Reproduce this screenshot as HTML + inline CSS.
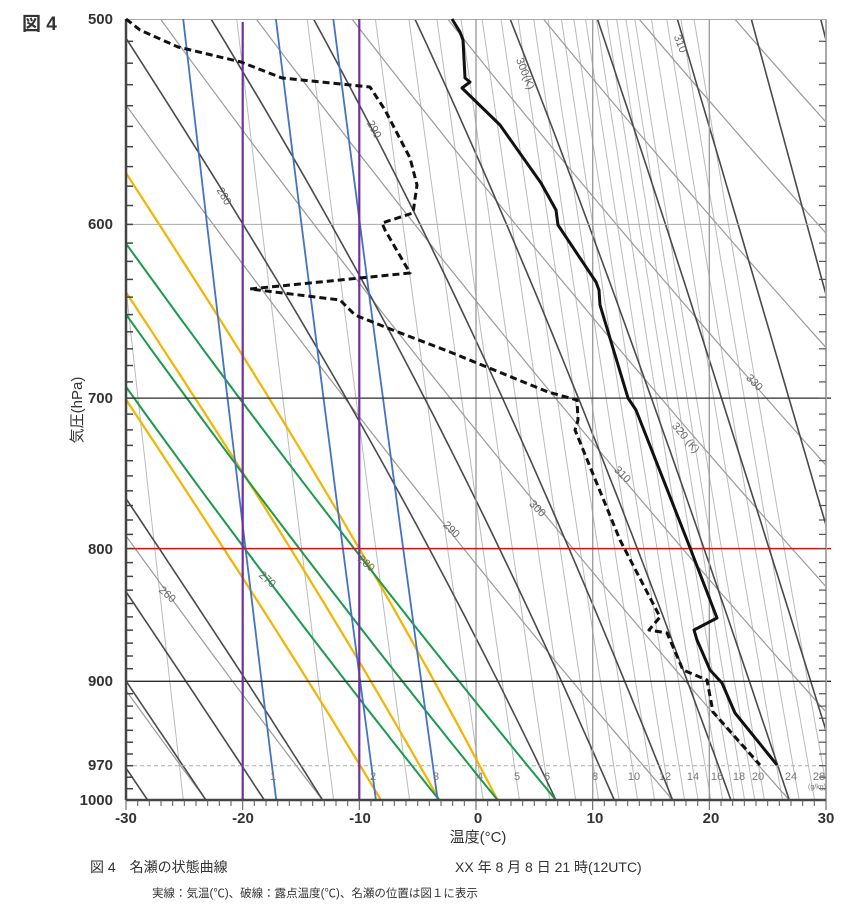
<!DOCTYPE html>
<html><head><meta charset="utf-8"><style>
body{margin:0;background:#fff;width:852px;height:915px;overflow:hidden;font-family:"Liberation Sans","Noto Sans CJK JP",sans-serif;}
svg{position:absolute;left:0;top:0}
.t{font-family:"Liberation Sans","Noto Sans CJK JP",sans-serif}
</style></head><body>
<svg id="s" width="852" height="915" xmlns="http://www.w3.org/2000/svg">
<defs><clipPath id="c"><rect x="126" y="19" width="700" height="781"/></clipPath></defs>
<g id="g" clip-path="url(#c)"></g>
<g id="ax"></g>
<g class="t" font-size="11" fill="#666">
<text transform="translate(165,597) rotate(42)" text-anchor="middle">260</text>
<text transform="translate(265,582) rotate(42)" text-anchor="middle">270</text>
<text transform="translate(364,566) rotate(42)" text-anchor="middle">280</text>
<text transform="translate(449,532) rotate(45)" text-anchor="middle">290</text>
<text transform="translate(535,511) rotate(45)" text-anchor="middle">300</text>
<text transform="translate(620,477) rotate(45)" text-anchor="middle">310</text>
<text transform="translate(683,440) rotate(50)" text-anchor="middle">320 (K)</text>
<text transform="translate(752,385) rotate(45)" text-anchor="middle">330</text>
<text transform="translate(522,75) rotate(68)" text-anchor="middle">300(K)</text>
<text transform="translate(677,45) rotate(68)" text-anchor="middle">310</text>
<text transform="translate(221,198) rotate(60)" text-anchor="middle">280</text>
<text transform="translate(371,131) rotate(62)" text-anchor="middle">290</text>
</g>
<g class="t" font-size="11" fill="#777" text-anchor="middle">
<text x="273" y="780">1</text><text x="373" y="780">2</text><text x="436" y="780">3</text><text x="480" y="780">4</text><text x="517" y="780">5</text><text x="547" y="780">6</text><text x="595" y="780">8</text><text x="634" y="780">10</text><text x="665" y="780">12</text><text x="693" y="780">14</text><text x="717" y="780">16</text><text x="739" y="780">18</text><text x="758" y="780">20</text><text x="791" y="780">24</text><text x="819" y="780">28</text>
<text x="817" y="789" font-size="7">(g/kg)</text>
</g>
<g class="t" font-size="15" fill="#333" text-anchor="end" font-weight="bold">
<text x="113" y="24">500</text><text x="113" y="229">600</text><text x="113" y="403">700</text><text x="113" y="554">800</text><text x="113" y="686">900</text><text x="113" y="770">970</text><text x="113" y="805">1000</text>
</g>
<g class="t" font-size="15" fill="#333" text-anchor="middle" font-weight="bold">
<text x="126" y="823">-30</text><text x="243" y="823">-20</text><text x="360" y="823">-10</text><text x="478" y="823">0</text><text x="595" y="823">10</text><text x="711" y="823">20</text><text x="826" y="823">30</text>
</g>
<text class="t" x="478" y="842" font-size="15" fill="#333" text-anchor="middle">温度(°C)</text>
<text class="t" transform="translate(82,410) rotate(-90)" font-size="15" fill="#333" text-anchor="middle">気圧(hPa)</text>
<text class="t" x="22" y="30" font-size="19" font-weight="bold" fill="#333">図 4</text>
<text class="t" x="90" y="872" font-size="14" fill="#333">図 4　名瀬の状態曲線</text>
<text class="t" x="455" y="872" font-size="14" fill="#333">XX 年  8 月  8 日 21 時(12UTC)</text>
<text class="t" x="152" y="897" font-size="11.5" fill="#333">実線：気温(℃)、破線：露点温度(℃)、名瀬の位置は図１に表示</text>
</svg>
<script>
var NS="http://www.w3.org/2000/svg",g=document.getElementById('g'),ax=document.getElementById('ax');
function X(T){return 126+(T+30)*700/60;}
function Y(p){return 19+Math.log(p/500)/Math.LN2*781;}
function line(par,pts,st,w,dash){var e=document.createElementNS(NS,'polyline');e.setAttribute('points',pts.map(function(q){return q[0].toFixed(1)+','+q[1].toFixed(1)}).join(' '));e.setAttribute('fill','none');e.setAttribute('stroke',st);e.setAttribute('stroke-width',w);if(dash)e.setAttribute('stroke-dasharray',dash);e.setAttribute('stroke-linejoin','round');par.appendChild(e);}
function dry(th){var a=[];for(var p=1000;p>=480;p-=10){a.push([X(th*Math.pow(p/1000,0.2857)-273.15),Y(p)]);}return a;}
function es(T){return 6.112*Math.exp(17.67*T/(T+243.5));}
function moist(T0){var a=[],T=T0,p=1000;a.push([X(T),Y(p)]);while(p>480){var Tk=T+273.15,e=es(T),rs=0.622*e/(p-e);var d=(287*Tk+2.5e6*rs)/(p*(1004+2.5e6*2.5e6*rs*0.622/(287*Tk*Tk)));T-=d*2;p-=2;if(p%10==0)a.push([X(T),Y(p)]);}return a;}
function mix(w){var a=[];for(var p=1000;p>=480;p-=20){var e=w*p/(622+w),l=Math.log(e/6.112);a.push([X(243.5*l/(17.67-l)),Y(p)]);}return a;}
var ws=[0.2,0.5,1.5,2.5,4,5,6,7,8,9,10,11,12,13,14,15,16,17,18,19,20,22,24,26,28];
ws.forEach(function(w){line(g,mix(w),'#bbb',1);});
for(var th=240;th<=400;th+=10){line(g,dry(th),'#9a9a9a',1.2);}
for(var t=235;t<=330;t+=5){line(g,moist(t-273.15),'#4a4a4a',1.6);}
[[600,'#aaa',1],[500,'#aaa',2]].forEach(function(h){line(g,[[126,Y(h[0])],[826,Y(h[0])]],h[1],h[2]);});
line(g,[[126,Y(970)],[826,Y(970)]],'#aaa',1,'4,3');
[0,10,20].forEach(function(t){line(g,[[X(t),19],[X(t),800]],'#999',1.3);});
[-8.15,-3.15,1.85].forEach(function(t){line(g,moist(t),'#f5b400',2.2);});
[270,275,280].forEach(function(t){line(g,dry(t),'#1a9a4a',2);});
[1,2,3].forEach(function(w){line(g,mix(w),'#4472c4',1.8);});
line(ax,[[126,Y(700)],[831,Y(700)]],'#2a2a2a',1.3);
line(ax,[[126,Y(900)],[831,Y(900)]],'#2a2a2a',1.3);
line(ax,[[126,Y(800)],[831,Y(800)]],'#ff0000',1.5);
line(ax,[[X(-20),22],[X(-20),800]],'#7030a0',2.2);
line(ax,[[X(-10),19],[X(-10),800]],'#7030a0',2.2);
line(ax,[[826,19],[826,800]],'#aaa',2);
line(ax,[[126,19],[126,800]],'#444',2.5);
line(ax,[[126,800],[826,800]],'#444',2.5);
for(var p=510;p<=1000;p+=10){var y=Y(p);line(ax,[[126,y],[133,y]],'#444',1.5);line(ax,[[819,y],[826,y]],'#555',1.2);}
for(var t=-30;t<=30;t++){var x=X(t);line(ax,[[x,800],[x,(t%10==0)?810:806]],'#555',1);}
var Tp=[[452,19],[460,32],[463,40],[465,78],[470,82],[462,88],[500,125],[541,183],[556,210],[558,225],[596,282],[599,290],[600,305],[628,398],[636,410],[687,540],[717,618],[694,630],[697,640],[710,670],[722,683],[735,713],[777,765]];
line(ax,Tp,'#111',3);
var Dp=[[126,19],[140,30],[178,47],[241,62],[282,78],[370,87],[385,110],[410,158],[417,185],[413,213],[382,223],[385,230],[410,273],[250,289],[340,300],[355,315],[385,327],[450,352],[548,392],[577,400],[578,420],[575,430],[620,540],[660,617],[649,630],[667,633],[683,670],[707,680],[713,712],[760,765]];
line(ax,Dp,'#111',3,'7,4');
</script>
</body></html>
